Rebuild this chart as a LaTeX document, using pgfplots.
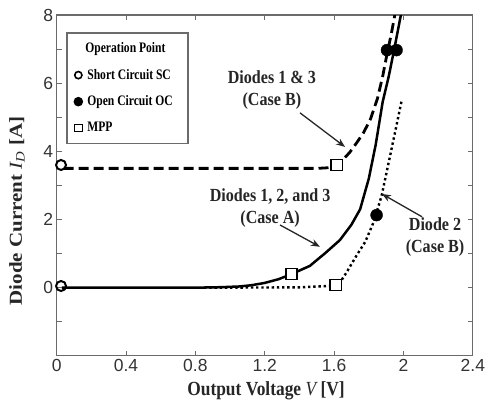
\documentclass[border=0pt]{standalone}
\usepackage{fontspec}
\setmainfont{Liberation Serif}[FakeStretch=0.87]
\newfontfamily\plainserif{Liberation Serif}
\newfontfamily\legfont{Liberation Serif}[FakeStretch=0.8]
\newfontfamily\tickfont{Liberation Sans}
\usepackage{pgfplots}
\pgfplotsset{compat=1.18}
\usetikzlibrary{arrows.meta}

\definecolor{framegray}{gray}{0.42}
\definecolor{tickgray}{gray}{0.2}

% Diodes 1, 2 and 3 (Case A)
\pgfplotstableread{
V I
0.03 0
0.5 0
0.85 0.005
0.95 0.015
1.05 0.035
1.12 0.07
1.2 0.14
1.28 0.25
1.355 0.40
1.46 0.64
1.55 1.02
1.634 1.40
1.7 1.85
1.75 2.30
1.8 3.2
1.84 4.2
1.88 5.45
1.915 6.2
1.945 6.95
1.985 8.0
2.0 8.4
}\caseA
% Diodes 1 & 3 (Case B)
\pgfplotstableread{
V I
0.04 3.5
1.5 3.5
1.57 3.52
1.615 3.6
1.65 3.75
1.69 3.97
1.73 4.25
1.77 4.55
1.81 4.95
1.85 5.55
1.88 6.2
1.905 6.85
1.93 7.45
1.95 8.0
1.96 8.3
}\caseBa
% Diode 2 (Case B)
\pgfplotstableread{
V I
0.85 0
1.4 0.01
1.61 0.06
1.64 0.2
1.672 0.45
1.73 0.95
1.78 1.35
1.83 1.95
1.874 2.7
1.92 3.8
1.96 4.77
1.99 5.5
}\caseBb

\begin{document}
\begin{tikzpicture}
\begin{axis}[
  scale only axis, width=416.3pt, height=341pt,
  xmin=0, xmax=2.4, ymin=-2, ymax=8,
  xtick={0,0.4,0.8,1.2,1.6,2,2.4},
  ytick={0,2,4,6,8}, minor ytick={-1,1,3,5,7},
  tick align=inside, major tick length=5pt, minor tick length=5pt,
  axis line style={framegray, line width=1.2pt},
  every tick/.style={framegray, line width=1pt},
  /pgf/number format/assume math mode=true,
  ticklabel style={font=\tickfont\fontsize{17.5}{20}\selectfont, text=tickgray},
  clip mode=individual,
  legend style={at={(axis cs:0.054,7.5)}, anchor=north west,
    draw=framegray, line width=1.5pt,
    font=\legfont\bfseries\fontsize{14.5}{16}\selectfont,
    row sep=11pt, column sep=3pt, inner xsep=3pt, inner ysep=8pt},
  legend cell align=left,
]
\addlegendimage{empty legend}
\addlegendentry{\hspace*{-2pt}Operation Point}
\addlegendimage{only marks, mark=o, mark size=3.6pt, mark options={line width=1.6pt}}
\addlegendentry{Short Circuit SC\hspace*{12pt}}
\addlegendimage{only marks, mark=*, mark size=4pt}
\addlegendentry{Open Circuit OC}
\addlegendimage{only marks, mark=square, mark size=3.8pt, mark options={line width=1.2pt}}
\addlegendentry{MPP}

\addplot[black, line width=2.5pt, forget plot] table[x=V, y=I] {\caseA};
\addplot[black, line width=2.8pt, dash pattern=on 10pt off 5pt, forget plot] table[x=V, y=I] {\caseBa};
\addplot[black, line width=2.4pt, dash pattern=on 2.4pt off 2.8pt, forget plot] table[x=V, y=I] {\caseBb};

% short circuit points
\addplot[only marks, mark=o, mark size=5pt, mark options={line width=2pt, fill=white}, forget plot]
  coordinates {(0.025,3.6) (0.025,0.05)};
% open circuit points
\addplot[only marks, mark=*, mark size=6pt, forget plot]
  coordinates {(1.905,6.97) (1.96,6.97) (1.845,2.13)};
% maximum power points
\addplot[only marks, mark=square*, mark size=5.6pt, mark options={line width=1.6pt, fill=white, draw=black}, forget plot]
  coordinates {(1.615,3.6) (1.355,0.40) (1.61,0.08)};

% annotations
\begin{scope}[every node/.style={font=\bfseries\fontsize{18.5}{22}\selectfont, align=center, text=black!85}]
\node at (axis cs:1.241,5.80) {Diodes 1 \& 3\\(Case B)};
\node at (axis cs:1.231,2.34) {Diodes 1, 2, and 3\\(Case A)};
\node at (axis cs:2.182,1.48) {Diode 2\\(Case B)};
\end{scope}
\begin{scope}[black!85, line width=1.3pt, -{Stealth[length=9pt,width=7pt]}]
\draw (axis cs:1.403,5.13) -- (axis cs:1.663,4.13);
\draw (axis cs:1.288,1.84) -- (axis cs:1.518,1.20);
\draw (axis cs:2.107,2.08) -- (axis cs:1.876,2.75);
\end{scope}

% axis titles
\node[font=\bfseries\fontsize{20}{24}\selectfont, text=black!85] at (axis cs:1.207,-3.03)
  {Output Voltage {\mdseries\itshape V} [V]};
\node[rotate=90, font=\plainserif\bfseries\fontsize{21}{24}\selectfont, text=black!85] at (axis cs:-0.229,2.25)
  {\scalebox{1}[0.87]{Diode Current {\mdseries\itshape I\textsubscript{D}} [A]}};

\coordinate (bbA) at (axis cs:-0.327,-3.789);
\coordinate (bbB) at (axis cs:2.476,8.44);
\end{axis}
\pgfresetboundingbox
\path[use as bounding box] (bbA) rectangle (bbB);
\end{tikzpicture}
\end{document}
